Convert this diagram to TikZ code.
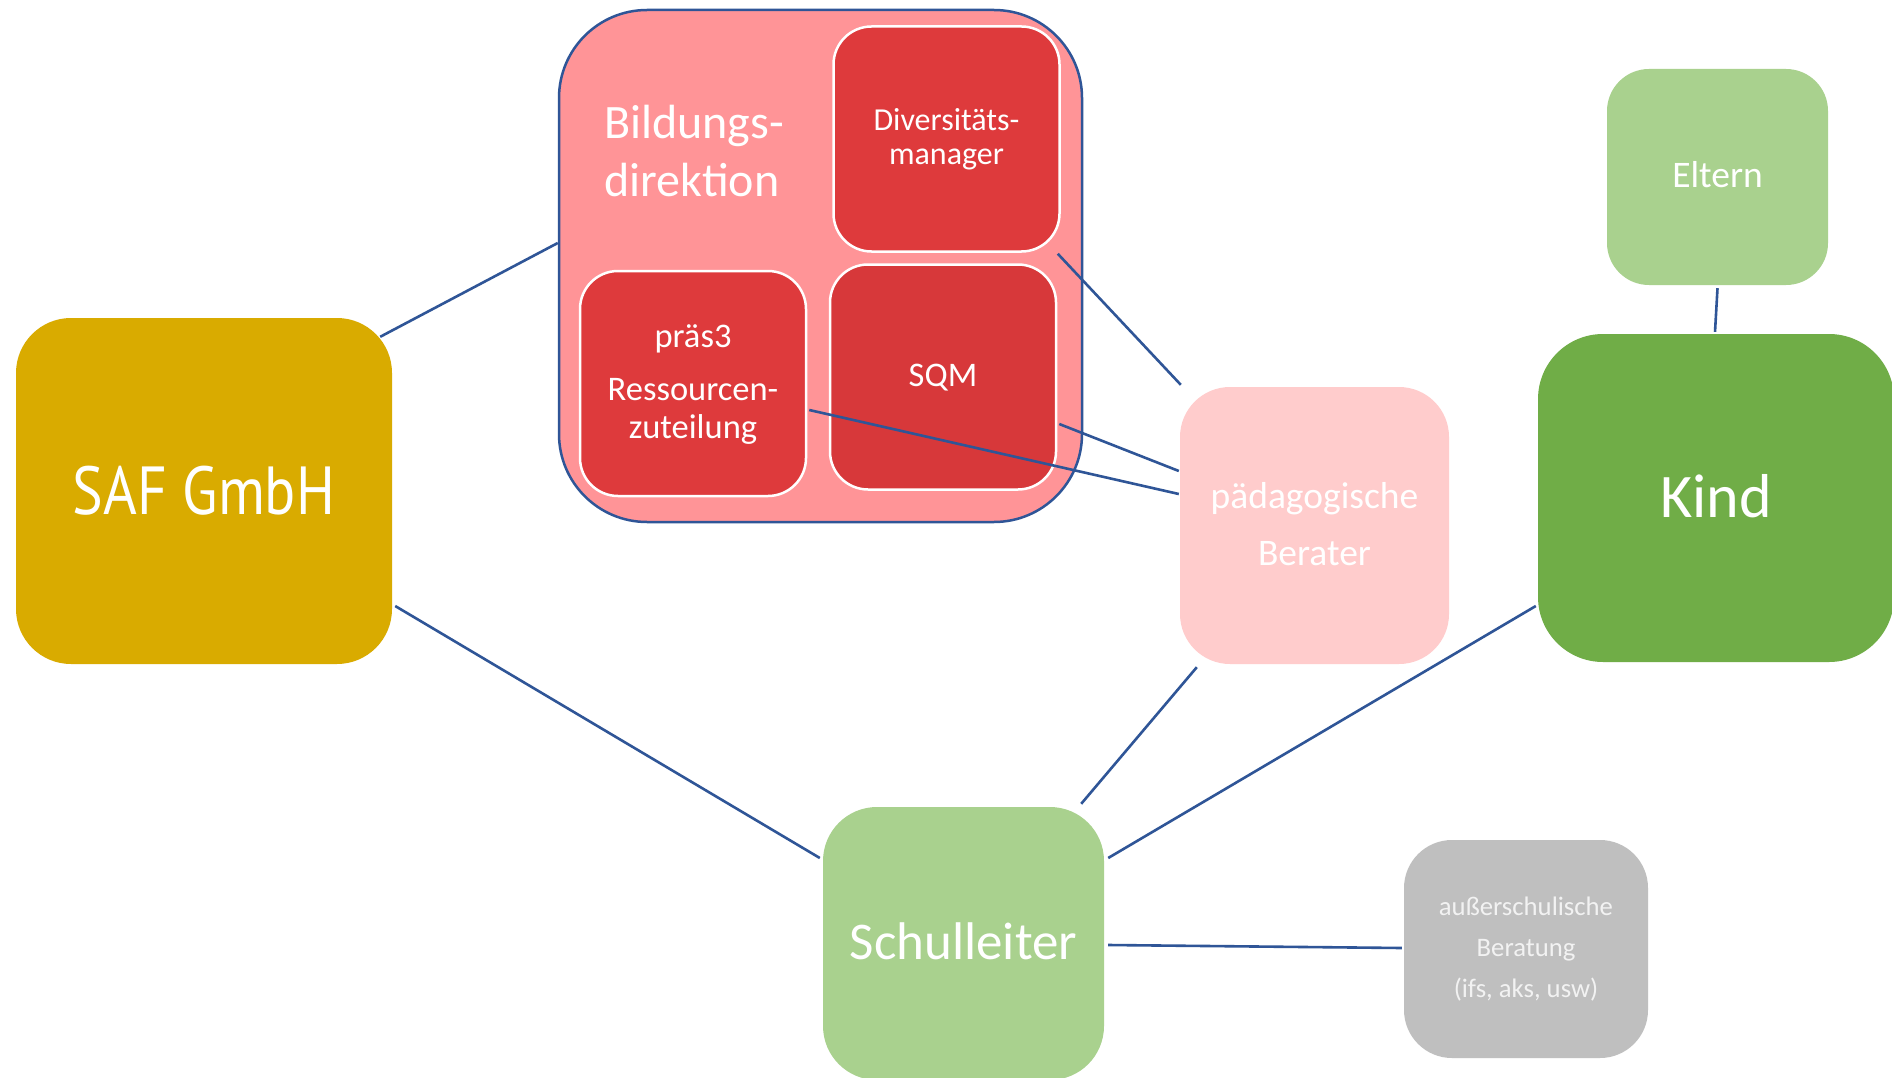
\documentclass[tikz,border=0pt]{standalone}
\usepackage{fontspec}
\setmainfont{Carlito}
\newfontfamily\dinfont[FakeStretch=0.85]{PT Sans}
\usetikzlibrary{calc}
\definecolor{safc}{HTML}{D9AB00}
\definecolor{bildc}{HTML}{FF9497}
\definecolor{redc}{HTML}{DE3A3C}
\definecolor{pedc}{HTML}{FFCCCC}
\definecolor{kindc}{HTML}{70AD47}
\definecolor{lgreen}{HTML}{A9D18E}
\definecolor{grayc}{HTML}{BFBFBF}
\definecolor{linkc}{HTML}{2F5597}
\tikzset{
  box/.style={rectangle, inner sep=0pt, text=white, align=center},
  inbox/.style={box, fill=redc, draw=white, line width=2.5pt, rounded corners=38pt,
     minimum width=226pt, minimum height=225pt},
  link/.style={draw=linkc, line width=2.6pt},
  txt/.style={text=white, align=center, inner sep=0pt}
}
\begin{document}
\begin{tikzpicture}[x=1pt,y=-1pt]
\useasboundingbox (0,0) rectangle (1892,1078);
\clip (0,0) rectangle (1892,1078);
\fill[white] (0,0) rectangle (1892,1078);

% boxes
\node[box, fill=safc, rounded corners=55pt, minimum width=376pt, minimum height=346pt] (saf) at (204,491) {};
\node[txt, font=\dinfont\fontsize{68}{80}\selectfont] (saft) at (saf.center) {SAF GmbH};

\node[box, fill=bildc, draw=linkc, line width=2.5pt, rounded corners=88pt, minimum width=523pt, minimum height=512pt] (bild) at (820.5,266) {};
\node[txt, align=left, anchor=west, font=\fontsize{48}{58}\selectfont] (bildt) at (604,151) {Bildungs-\\direktion};

\node[inbox] (div) at (946.5,139) {};
\node[txt, font=\fontsize{32}{34}\selectfont] (divt) at (div.center) {Diversitäts-\\manager};

\node[inbox] (prs) at (693,383.5) {};
\node[txt, font=\fontsize{34.5}{38}\selectfont] (prst) at (693,385) {präs3\\[15pt]Ressourcen-\\zuteilung};

\node[inbox, fill=redc!97!black] (sqm) at (943,377) {};
\node[txt, font=\fontsize{34.5}{38}\selectfont] (sqmt) at ($(sqm.center)+(0,1)$) {SQM};

\node[box, fill=pedc, rounded corners=50pt, minimum width=269pt, minimum height=277pt] (ped) at (1314.5,525.5) {};
\node[txt, font=\fontsize{37.5}{57}\selectfont] (pedt) at ($(ped.center)+(0,-1)$) {pädagogische\\Berater};

\node[box, fill=kindc, rounded corners=65pt, minimum width=356pt, minimum height=328pt] (kind) at (1716,498) {};
\node[txt, font=\fontsize{62}{70}\selectfont] (kindt) at ($(kind.center)+(0,-2)$) {Kind};

\node[box, fill=lgreen, rounded corners=42pt, minimum width=221pt, minimum height=216pt] (eltern) at (1717.5,177) {};
\node[txt, font=\fontsize{37.5}{40}\selectfont] (elternt) at ($(eltern.center)+(0,-2)$) {Eltern};

\node[box, fill=lgreen, rounded corners=54pt, minimum width=281pt, minimum height=273pt] (sl) at (963.5,943.5) {};
\node[txt, font=\fontsize{53}{60}\selectfont] (slt) at ($(sl.center)+(0,-2)$) {Schulleiter};

\node[box, fill=grayc, rounded corners=48pt, minimum width=244pt, minimum height=218pt] (aus) at (1526,949) {};
\node[txt, text=white!95!black, font=\fontsize{26.7}{41}\selectfont] (aust) at (aus.center) {außerschulische\\Beratung\\(ifs, aks, usw)};

% connectors
\draw[link] ($(saf.north east)+(-12,19)$) -- ($(bild.west)+(0,-23)$);
\draw[link] ($(saf.east)+(3,115)$) -- ($(sl.west)+(-3,-85.5)$);
\draw[link] ($(div.south east)+(-3,1)$) -- ($(ped.north west)+(1,-2)$);
\draw[link] ($(sqm.east)+(2,47)$) -- ($(ped.west)+(-1,-54.5)$);
\draw[link] ($(prs.east)+(2,26.5)$) -- ($(ped.west)+(-1,-31.5)$);
\draw[link] ($(ped.south west)+(17,3)$) -- ($(sl.north east)+(-23,-3)$);
\draw[link] ($(kind.west)+(-2,108)$) -- ($(sl.east)+(4,-85.5)$);
\draw[link] ($(eltern.south)+(0,3)$) -- ($(kind.north)+(-1,-2)$);
\draw[link] ($(sl.east)+(4,1.5)$) -- ($(aus.west)+(-2,-1)$);
\end{tikzpicture}
\end{document}
